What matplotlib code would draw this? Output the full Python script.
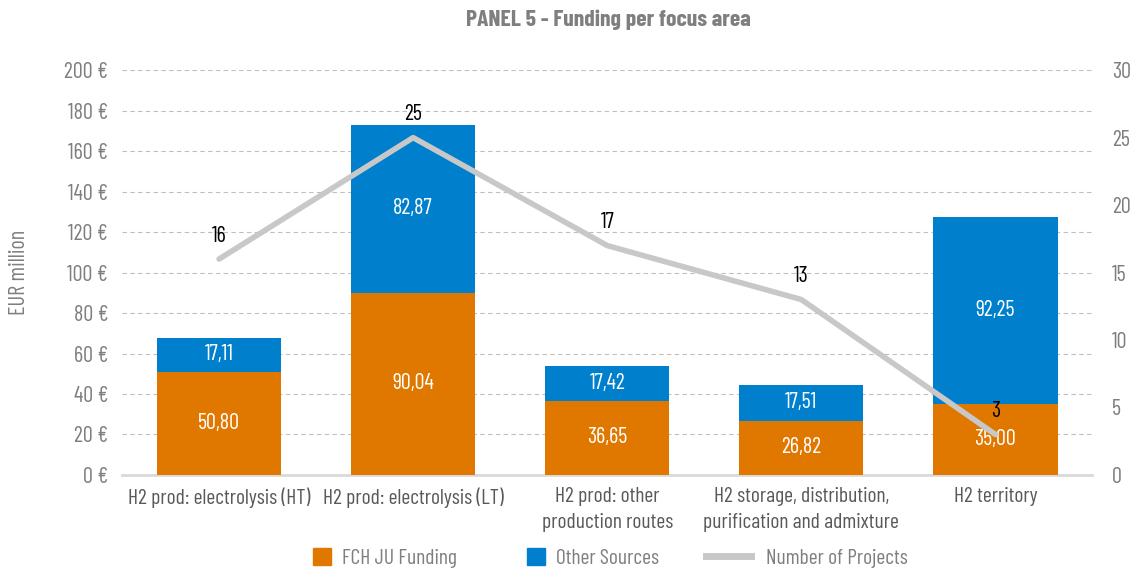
import matplotlib
matplotlib.use("Agg")
import matplotlib.pyplot as plt
from matplotlib.lines import Line2D
from matplotlib.patches import Patch
import numpy as np

categories = ["H2 prod: electrolysis (HT)", "H2 prod: electrolysis (LT)",
              "H2 prod: other\nproduction routes",
              "H2 storage, distribution,\npurification and admixture",
              "H2 territory"]
fch_funding = [50.80, 90.04, 36.65, 26.82, 35.00]
other_sources = [17.11, 82.87, 17.42, 17.51, 92.25]
num_projects = [16, 25, 17, 13, 3]
left_ticks = [0, 20, 40, 60, 80, 100, 120, 140, 160, 180, 200]
right_ticks = [0, 5, 10, 15, 20, 25, 30]

plt.rcParams['font.family'] = ['Barlow Condensed', 'DejaVu Sans']
plt.rcParams['font.weight'] = 'normal'
FSZ = 16
CSZ = 15.5

orange = "#E07800"
blue = "#0080CC"
grey_line = "#C8C8C8"
tick_col = "#7F7F7F"
txt_col = "#595959"

fig = plt.figure(figsize=(11.35, 5.75), dpi=100)
ax = fig.add_axes([0.1075, 0.174, 0.855, 0.704])
ax2 = ax.twinx()

x = np.arange(len(categories))
w = 0.64
ax.bar(x, fch_funding, w, color=orange, zorder=2)
ax.bar(x, other_sources, w, bottom=fch_funding, color=blue, zorder=2)

for i in range(len(x)):
    ax.text(x[i], fch_funding[i] / 2, f"{fch_funding[i]:.2f}".replace(".", ","),
            ha="center", va="center", color="white", fontsize=FSZ, zorder=3)
    ax.text(x[i], fch_funding[i] + other_sources[i] / 2,
            f"{other_sources[i]:.2f}".replace(".", ","),
            ha="center", va="center", color="white", fontsize=FSZ, zorder=3)

ax.set_ylim(0, 200)
ax.set_yticks(left_ticks)
ax.set_yticklabels([f"{t} €" for t in left_ticks])
ax.set_xlim(-0.5, len(categories) - 0.5)
ax.set_xticks(x)
ax.set_xticklabels(categories, linespacing=1.45)
ax.grid(axis="y", color="#BFBFBF", linestyle=(0, (4, 3)), linewidth=0.8, zorder=0)
ax.set_axisbelow(True)

for a in (ax, ax2):
    for s in ("top", "right", "left", "bottom"):
        a.spines[s].set_visible(False)
ax.axhline(0, color="#D9D9D9", linewidth=2, zorder=1, clip_on=False)

ax.tick_params(axis="y", length=0, colors=tick_col, labelsize=FSZ, pad=10)
ax.tick_params(axis="x", length=0, labelcolor=txt_col, labelsize=CSZ, pad=9)

ax2.plot(x, num_projects, color=grey_line, linewidth=4, zorder=4, solid_capstyle="round")
ax2.set_ylim(0, 30)
ax2.set_yticks(right_ticks)
ax2.tick_params(axis="y", length=0, colors=tick_col, labelsize=FSZ, pad=14)
for i in range(len(x)):
    ax2.annotate(str(num_projects[i]), (x[i], num_projects[i]), xytext=(0, 9),
                 textcoords="offset points", ha="center", va="bottom",
                 fontsize=FSZ, color="black", zorder=5)

ax.set_ylabel("EUR million", color=tick_col, fontsize=FSZ)
ax.yaxis.set_label_coords(-0.095, 0.5)

fig.text(0.536, 0.965, "PANEL 5 - Funding per focus area", ha="center", va="center",
         fontsize=17, fontweight="bold", color="#7F7F7F")

legend_items = [
    (Patch(color=orange), "FCH JU Funding", 313 / 1135, 0.85, 0.5),
    (Patch(color=blue), "Other Sources", 527 / 1135, 0.85, 0.5),
    (Line2D([0], [0], color=grey_line, linewidth=5), "Number of Projects", 706 / 1135, 2.1, 0.7),
]
for h, lab, xpos, hl, pad in legend_items:
    lg = fig.legend(handles=[h], labels=[lab], loc="center left",
                    bbox_to_anchor=(xpos, 0.03), frameon=False, fontsize=CSZ,
                    handlelength=hl, handleheight=0.85, handletextpad=pad,
                    borderpad=0, borderaxespad=0)
    for t in lg.get_texts():
        t.set_color(tick_col)

fig.savefig("out.png", dpi=100)
